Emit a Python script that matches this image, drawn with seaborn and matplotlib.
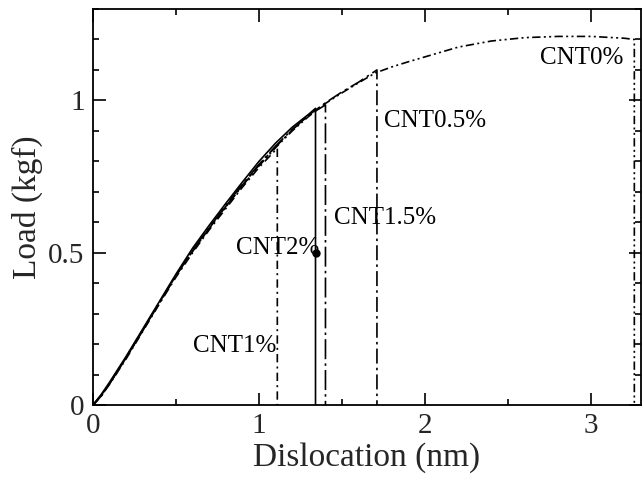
import matplotlib
matplotlib.use("Agg")
import matplotlib.pyplot as plt
from matplotlib.ticker import MultipleLocator
import seaborn as sns
import pandas as pd

# Load-displacement curves for each CNT content (displacement in nm, load in kgf)
cnt0_disp = [0, 0.05, 0.1, 0.2, 0.3, 0.4, 0.5, 0.6, 0.7, 0.8, 0.9, 1.0, 1.1, 1.2, 1.3,
             1.4, 1.5, 1.6, 1.7, 1.8, 1.9, 2.0, 2.2, 2.4, 2.6, 2.8, 3.0, 3.2, 3.26, 3.26]
cnt0_load = [0, 0.03, 0.07, 0.155, 0.245, 0.335, 0.425, 0.505, 0.58, 0.65, 0.72, 0.785, 0.845,
             0.9, 0.948, 0.99, 1.025, 1.058, 1.09, 1.11, 1.127, 1.143, 1.175, 1.195, 1.206,
             1.21, 1.21, 1.204, 1.2, 0]

cnt05_disp = [0, 0.05, 0.1, 0.2, 0.3, 0.4, 0.5, 0.6, 0.7, 0.8, 0.9, 1.0, 1.1, 1.2, 1.3,
              1.4, 1.5, 1.6, 1.71, 1.71]
cnt05_load = [0, 0.03, 0.07, 0.155, 0.245, 0.335, 0.425, 0.505, 0.58, 0.652, 0.722, 0.788,
              0.848, 0.903, 0.952, 0.992, 1.028, 1.06, 1.1, 0]

cnt1_disp = [0, 0.05, 0.1, 0.2, 0.3, 0.4, 0.5, 0.6, 0.7, 0.8, 0.9, 1.0, 1.11, 1.11]
cnt1_load = [0, 0.03, 0.068, 0.152, 0.242, 0.332, 0.42, 0.5, 0.575, 0.645, 0.715, 0.78, 0.843, 0]

cnt15_disp = [0, 0.05, 0.1, 0.2, 0.3, 0.4, 0.5, 0.6, 0.7, 0.8, 0.9, 1.0, 1.1, 1.2, 1.3,
              1.4, 1.4]
cnt15_load = [0, 0.032, 0.072, 0.157, 0.247, 0.337, 0.427, 0.508, 0.583, 0.655, 0.725, 0.79,
              0.85, 0.905, 0.952, 0.985, 0]

cnt2_disp = [0, 0.05, 0.1, 0.2, 0.3, 0.4, 0.5, 0.6, 0.7, 0.8, 0.9, 1.0, 1.1, 1.2, 1.3,
             1.34, 1.34]
cnt2_load = [0, 0.035, 0.075, 0.16, 0.25, 0.34, 0.43, 0.515, 0.59, 0.662, 0.732, 0.8, 0.86,
             0.912, 0.955, 0.974, 0]

series_names = ["CNT0%", "CNT0.5%", "CNT1%", "CNT1.5%", "CNT2%"]
series_disp = [cnt0_disp, cnt05_disp, cnt1_disp, cnt15_disp, cnt2_disp]
series_load = [cnt0_load, cnt05_load, cnt1_load, cnt15_load, cnt2_load]

# Marker on the CNT2% drop, next to its label
cnt2_marker_disp = 1.34
cnt2_marker_load = 0.5

frames = []
for name, xs, ys in zip(series_names, series_disp, series_load):
    frames.append(pd.DataFrame({"disp": xs, "load": ys, "series": name,
                                "order": range(len(xs))}))
df = pd.concat(frames, ignore_index=True)

sns.set_style("ticks")
plt.rcParams["font.family"] = ["Liberation Serif", "DejaVu Serif"]
plt.rcParams["mathtext.fontset"] = "stix"

fig = plt.figure(figsize=(6.44, 4.84), dpi=100)
ax = fig.add_axes([0.1444, 0.1632, 0.8509, 0.8182])

dash_styles = {
    "CNT0%": (5, 2, 1.2, 2, 1.2, 2),
    "CNT0.5%": (9, 2.5, 1.5, 2.5),
    "CNT1%": (5, 2.5, 1.2, 2.5),
    "CNT1.5%": (12, 2.5, 1.5, 2.5),
    "CNT2%": "",
}
sns.lineplot(data=df, x="disp", y="load", hue="series", style="series",
             palette={n: "black" for n in series_names}, dashes=dash_styles,
             estimator=None, sort=False, units="series", linewidth=1.2,
             legend=False, ax=ax)
ax.plot([cnt2_marker_disp], [cnt2_marker_load], marker="o", color="black",
        markersize=5, linestyle="none")

# Curve labels
label_pos = {
    "CNT0%": (2.69, 1.138),
    "CNT0.5%": (1.75, 0.931),
    "CNT1.5%": (1.45, 0.613),
    "CNT2%": (0.86, 0.515),
    "CNT1%": (0.60, 0.193),
}
for name, (tx, ty) in label_pos.items():
    ax.text(tx, ty, name, fontsize=18, ha="left", va="center", color="black")

ax.set_xlim(0, 3.3)
ax.set_ylim(0, 1.3)
ax.xaxis.set_major_locator(MultipleLocator(1))
ax.xaxis.set_minor_locator(MultipleLocator(0.5))
ax.yaxis.set_major_locator(MultipleLocator(0.5))
ax.yaxis.set_minor_locator(MultipleLocator(0.1))
ax.set_yticks([0, 0.5, 1])
ax.set_yticklabels(["0", "0.5", "1"])
ax.set_xticks([0, 1, 2, 3])
ax.set_xticklabels(["0", "1", "2", "3"])

ax.tick_params(which="both", direction="in", top=True, right=True, color="black",
               width=1.2)
ax.tick_params(which="major", length=9, labelsize=21, pad=6)
ax.tick_params(which="minor", length=4.5)
for sp in ax.spines.values():
    sp.set_visible(True)
    sp.set_linewidth(1.3)
    sp.set_color("black")

ax.set_xlabel("Dislocation (nm)", fontsize=24, labelpad=2)
ax.set_ylabel("Load (kgf)", fontsize=24, labelpad=4)

fig.savefig("out.png", dpi=100, facecolor="white")
